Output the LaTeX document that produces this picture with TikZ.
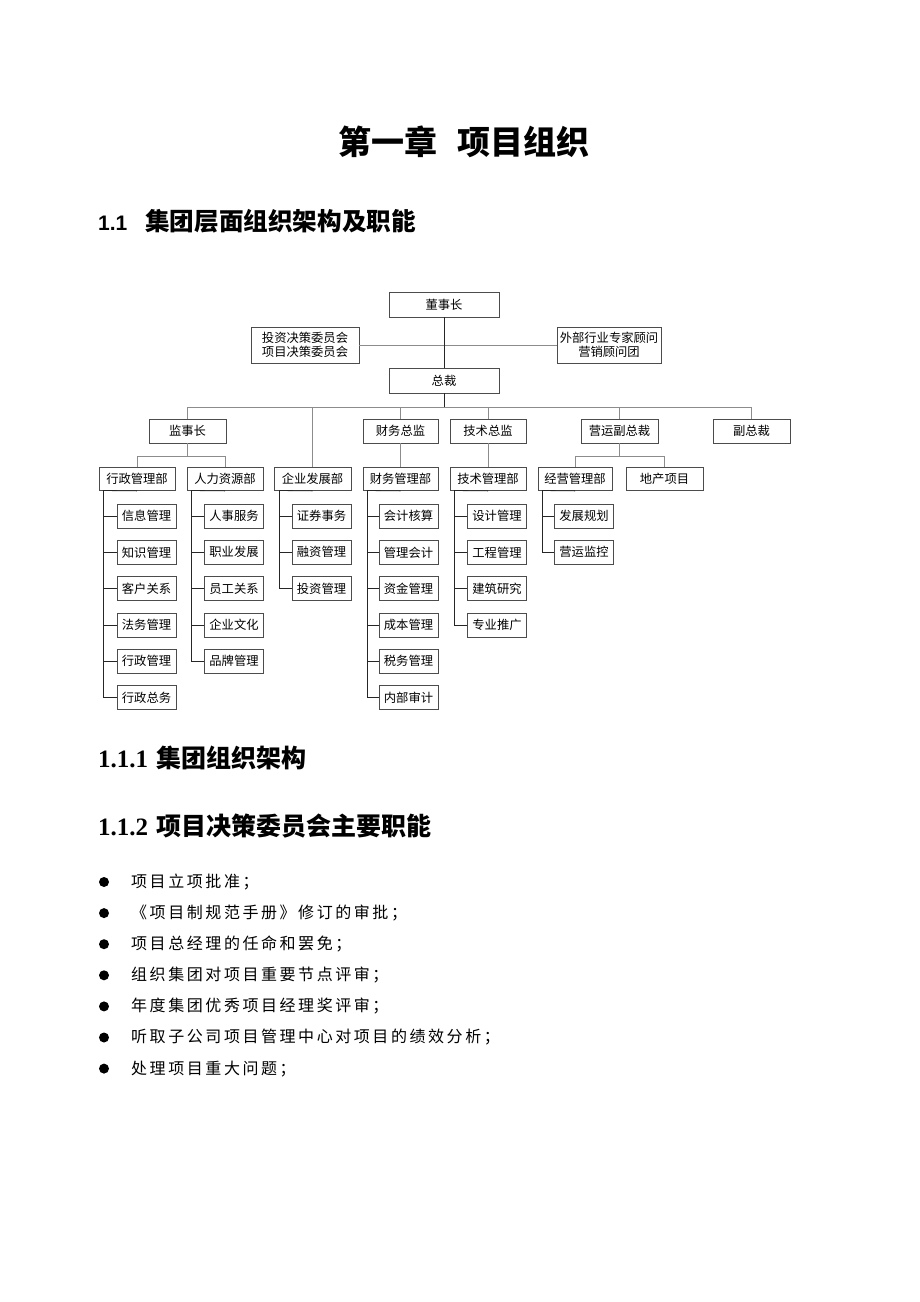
\documentclass[tikz,border=0pt]{standalone}
\usepackage{fontspec}
\usepackage{tikz}
\setmainfont{Noto Sans CJK SC}
\newfontfamily\sansnum{Liberation Sans}
\newfontfamily\serifnum{Liberation Serif}
\newfontfamily\bodycjk{Noto Sans CJK SC}[LetterSpace=16]

\tikzset{
  box/.style={draw=black!70, line width=0.7pt, fill=white, inner sep=1pt,
    minimum height=24pt, font=\fontsize{12.3}{14}\selectfont},
  topbox/.style={box, minimum width=110pt, minimum height=25pt},
  sidebox/.style={box, align=center, minimum height=36pt},
  head/.style={box, minimum width=77pt},
  dept/.style={box, minimum width=76pt, minimum height=23pt},
  leaf/.style={box, minimum width=59pt},
  link/.style={draw=black!45, line width=0.8pt},
  trunk/.style={draw=black!85, line width=0.8pt},
  bullet/.style={circle, fill=black, inner sep=0pt, minimum size=10pt},
  item/.style={anchor=west, inner sep=0pt, font=\fontsize{16}{18}\bodycjk}
}

\begin{document}
\begin{tikzpicture}[x=1pt, y=-1pt]
  \fill[white] (0,0) rectangle (920,1302);
  \useasboundingbox (0,0) rectangle (920,1302);

  % Headings
  \node[inner sep=0pt, font=\fontsize{33}{38}\selectfont\bfseries] (title) at (464,142)
    {第一章\hspace{20pt}项目组织};
  \node[anchor=west, inner sep=0pt] (sec11) at (98,221)
    {{\fontsize{21}{24}\sansnum\bfseries 1.1}\hspace{18pt}{\fontsize{24.6}{28}\selectfont\bfseries 集团层面组织架构及职能}};

  % Top level
  \node[topbox] (dsz) at (444,304.5) {董事长};
  \node[topbox] (zc) at (444,380.5) {总裁};
  \node[sidebox, minimum width=108pt] (jcwyh) at (305,345) {投资决策委员会\\项目决策委员会};
  \node[sidebox, minimum width=104pt] (gwt) at (609,345) {外部行业专家顾问\\营销顾问团};

  % Second level
  \node[head] (jsz) at (187.5,431) {监事长};
  \node[head, minimum width=75pt] (cwzj) at (400.5,431) {财务总监};
  \node[head, minimum width=76pt] (jszj) at (488,431) {技术总监};
  \node[head] (yyfzc) at (619.5,431) {营运副总裁};
  \node[head] (fzc) at (751.5,431) {副总裁};

  % Departments
  \node[dept] (xzglb) at (137,479) {行政管理部};
  \node[dept] (rlzyb) at (225,479) {人力资源部};
  \node[dept, minimum width=77pt] (qyfzb) at (312.5,479) {企业发展部};
  \node[dept, minimum width=75pt] (cwglb) at (400.5,479) {财务管理部};
  \node[dept] (jsglb) at (488,479) {技术管理部};
  \node[dept, minimum width=74pt] (jyglb) at (575,479) {经营管理部};
  \node[dept, minimum width=77pt] (dcxm) at (664.5,479) {地产项目};

  % Sub units
  \foreach \t [count=\i] in {信息管理,知识管理,客户关系,法务管理,行政管理,行政总务}
    \node[leaf] (xz\i) at (146.5,{516+36.3*(\i-1)}) {\t};
  \foreach \t [count=\i] in {人事服务,职业发展,员工关系,企业文化,品牌管理}
    \node[leaf] (rl\i) at (234,{516+36.3*(\i-1)}) {\t};
  \foreach \t [count=\i] in {证券事务,融资管理,投资管理}
    \node[leaf] (qy\i) at (321.5,{516+36.3*(\i-1)}) {\t};
  \foreach \t [count=\i] in {会计核算,管理会计,资金管理,成本管理,税务管理,内部审计}
    \node[leaf] (cw\i) at (408.5,{516+36.3*(\i-1)}) {\t};
  \foreach \t [count=\i] in {设计管理,工程管理,建筑研究,专业推广}
    \node[leaf] (js\i) at (497,{516+36.3*(\i-1)}) {\t};
  \foreach \t [count=\i] in {发展规划,营运监控}
    \node[leaf] (jy\i) at (584,{516+36.3*(\i-1)}) {\t};

  % Connectors
  \coordinate (bus) at (444,407);
  \coordinate (jszb) at (187.5,456);
  \coordinate (yyb) at (619.5,456);
  \draw[link] (jcwyh.east) -- (gwt.west);
  \draw[trunk] (dsz.south) -- (zc.north);
  \foreach \n in {jsz,qyfzb,cwzj,jszj,yyfzc,fzc}
    \draw[link] (\n.north) |- (bus);
  \draw[trunk] (zc.south) -- (bus);
  \draw[link] (cwzj.south) -- (cwglb.north);
  \draw[link] (jszj.south) -- (jsglb.north);
  \draw[link] (jsz.south) -- (jszb);
  \draw[link] (xzglb.north) |- (jszb);
  \draw[link] (rlzyb.north) |- (jszb);
  \draw[link] (yyfzc.south) -- (yyb);
  \draw[link] (jyglb.north) |- (yyb);
  \draw[link] (dcxm.north) |- (yyb);

  \foreach \d/\c/\x/\n in {xzglb/xz/103/6, rlzyb/rl/191/5, qyfzb/qy/279/3,
                          cwglb/cw/367/6, jsglb/js/454/4, jyglb/jy/542/2} {
    \coordinate (\c sp) at (\x,490.5);
    \draw[trunk] (\d.south) -- (\c sp);
    \foreach \i in {1,...,\n}
      \draw[trunk] (\c sp) |- (\c\i.west);
  }

  % Section 1.1.1 and 1.1.2
  \node[anchor=west, inner sep=0pt] (sec111) at (98,758)
    {{\fontsize{25}{28}\serifnum\bfseries 1.1.1}\hspace{8pt}{\fontsize{25}{28}\selectfont\bfseries 集团组织架构}};
  \node[anchor=west, inner sep=0pt] (sec112) at (98,826)
    {{\fontsize{25}{28}\serifnum\bfseries 1.1.2}\hspace{8pt}{\fontsize{25}{28}\selectfont\bfseries 项目决策委员会主要职能}};

  % Duties list
  \foreach \t [count=\i] in {项目立项批准；,《项目制规范手册》修订的审批；,项目总经理的任命和罢免；,
      组织集团对项目重要节点评审；,年度集团优秀项目经理奖评审；,
      听取子公司项目管理中心对项目的绩效分析；,处理项目重大问题；} {
    \node[bullet] (dot\i) at (104,{882+31.1*(\i-1)}) {};
    \node[item] (duty\i) at (131,{882+31.1*(\i-1)}) {\t};
  }
\end{tikzpicture}
\end{document}
